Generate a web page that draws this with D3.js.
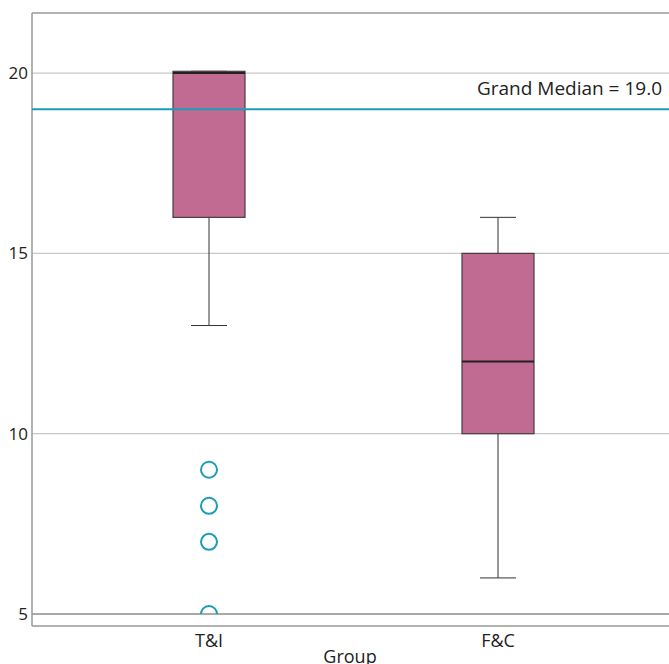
<!DOCTYPE html>
<html><head><meta charset="utf-8">
<script src="https://cdn.jsdelivr.net/npm/d3@7"></script>
<style>body{margin:0;background:#fff}svg{display:block}text{font-family:"Open Sans","Noto Sans",sans-serif;fill:#222}</style>
</head><body><svg id="c" width="669" height="664"></svg>
<script>
const categories = ["T&I", "F&C"];
const q1 = [16, 10];
const medians = [20, 12];
const q3 = [20.05, 15];
const whiskerLow = [13, 6];
const whiskerHigh = [20.05, 16];
const outliers = [[9, 8, 7, 5], []];
const yTicks = [5, 10, 15, 20];
const grandMedian = 19.0;

(function () {
const svg = d3.select("#c");
const W = 669;
const pLeft = 32, pTop = 13, pBottom = 626;
const y = d3.scaleLinear().domain([4.667, 21.667]).range([pBottom, pTop]);
const x = d3.scalePoint().domain(categories).range([64.5, 642.5]).padding(0.5);
const boxW = 72, capW = 36;

svg.append("g").selectAll("line").data(yTicks).join("line")
  .attr("x1", pLeft).attr("x2", W).attr("y1", d => y(d)).attr("y2", d => y(d))
  .attr("stroke", d => d === 5 ? "#555" : "#c8c8c8").attr("stroke-width", 1.2);

svg.append("line").attr("x1", pLeft).attr("x2", W).attr("y1", pTop).attr("y2", pTop).attr("stroke", "#999").attr("stroke-width", 1.5);
svg.append("line").attr("x1", pLeft).attr("x2", W).attr("y1", pBottom).attr("y2", pBottom).attr("stroke", "#999").attr("stroke-width", 1.5);
svg.append("line").attr("x1", pLeft).attr("x2", pLeft).attr("y1", pTop).attr("y2", pBottom).attr("stroke", "#999").attr("stroke-width", 1.5);

svg.append("g").selectAll("text").data(yTicks).join("text")
  .attr("x", 28).attr("y", d => y(d)).attr("dy", "0.35em").attr("text-anchor", "end")
  .attr("font-size", 17).text(d => d);

const boxes = categories.map((c, i) => ({c, i}));
const g = svg.append("g");
boxes.forEach(({c, i}) => {
  const cx = x(c);
  g.append("line").attr("x1", cx).attr("x2", cx).attr("y1", y(whiskerLow[i])).attr("y2", y(q1[i])).attr("stroke", "#333");
  g.append("line").attr("x1", cx).attr("x2", cx).attr("y1", y(q3[i])).attr("y2", y(whiskerHigh[i])).attr("stroke", "#333");
  g.append("line").attr("x1", cx - capW/2).attr("x2", cx + capW/2).attr("y1", y(whiskerLow[i])).attr("y2", y(whiskerLow[i])).attr("stroke", "#333");
  g.append("line").attr("x1", cx - capW/2).attr("x2", cx + capW/2).attr("y1", y(whiskerHigh[i])).attr("y2", y(whiskerHigh[i])).attr("stroke", "#333");
  g.append("rect").attr("x", cx - boxW/2).attr("width", boxW)
    .attr("y", y(q3[i])).attr("height", y(q1[i]) - y(q3[i]))
    .attr("fill", "#c26b92").attr("stroke", "#4a3a42").attr("stroke-width", 1.2);
  g.append("line").attr("x1", cx - boxW/2).attr("x2", cx + boxW/2).attr("y1", y(medians[i])).attr("y2", y(medians[i])).attr("stroke", "#222").attr("stroke-width", 2);
});

svg.append("clipPath").attr("id", "clipP").append("rect").attr("x", pLeft).attr("y", pTop).attr("width", W - pLeft).attr("height", y(5) - pTop);
const og = svg.append("g").attr("clip-path", "url(#clipP)");
boxes.forEach(({c, i}) => {
  og.append("g").selectAll("circle").data(outliers[i]).join("circle")
    .attr("cx", x(c)).attr("cy", d => y(d)).attr("r", 8)
    .attr("fill", "none").attr("stroke", "#1a9db5").attr("stroke-width", 2);
});

svg.append("line").attr("x1", pLeft).attr("x2", W).attr("y1", y(grandMedian)).attr("y2", y(grandMedian)).attr("stroke", "#1a9db5").attr("stroke-width", 2);
svg.append("text").attr("x", 662).attr("y", y(grandMedian) - 14).attr("text-anchor", "end").attr("font-size", 19)
  .text("Grand Median = " + grandMedian.toFixed(1));

svg.append("g").selectAll("text").data(categories).join("text")
  .attr("x", d => x(d)).attr("y", 647).attr("text-anchor", "middle").attr("font-size", 18).text(d => d);
svg.append("text").attr("x", 350).attr("y", 663).attr("text-anchor", "middle").attr("font-size", 18).text("Group");
})();
</script></body></html>
